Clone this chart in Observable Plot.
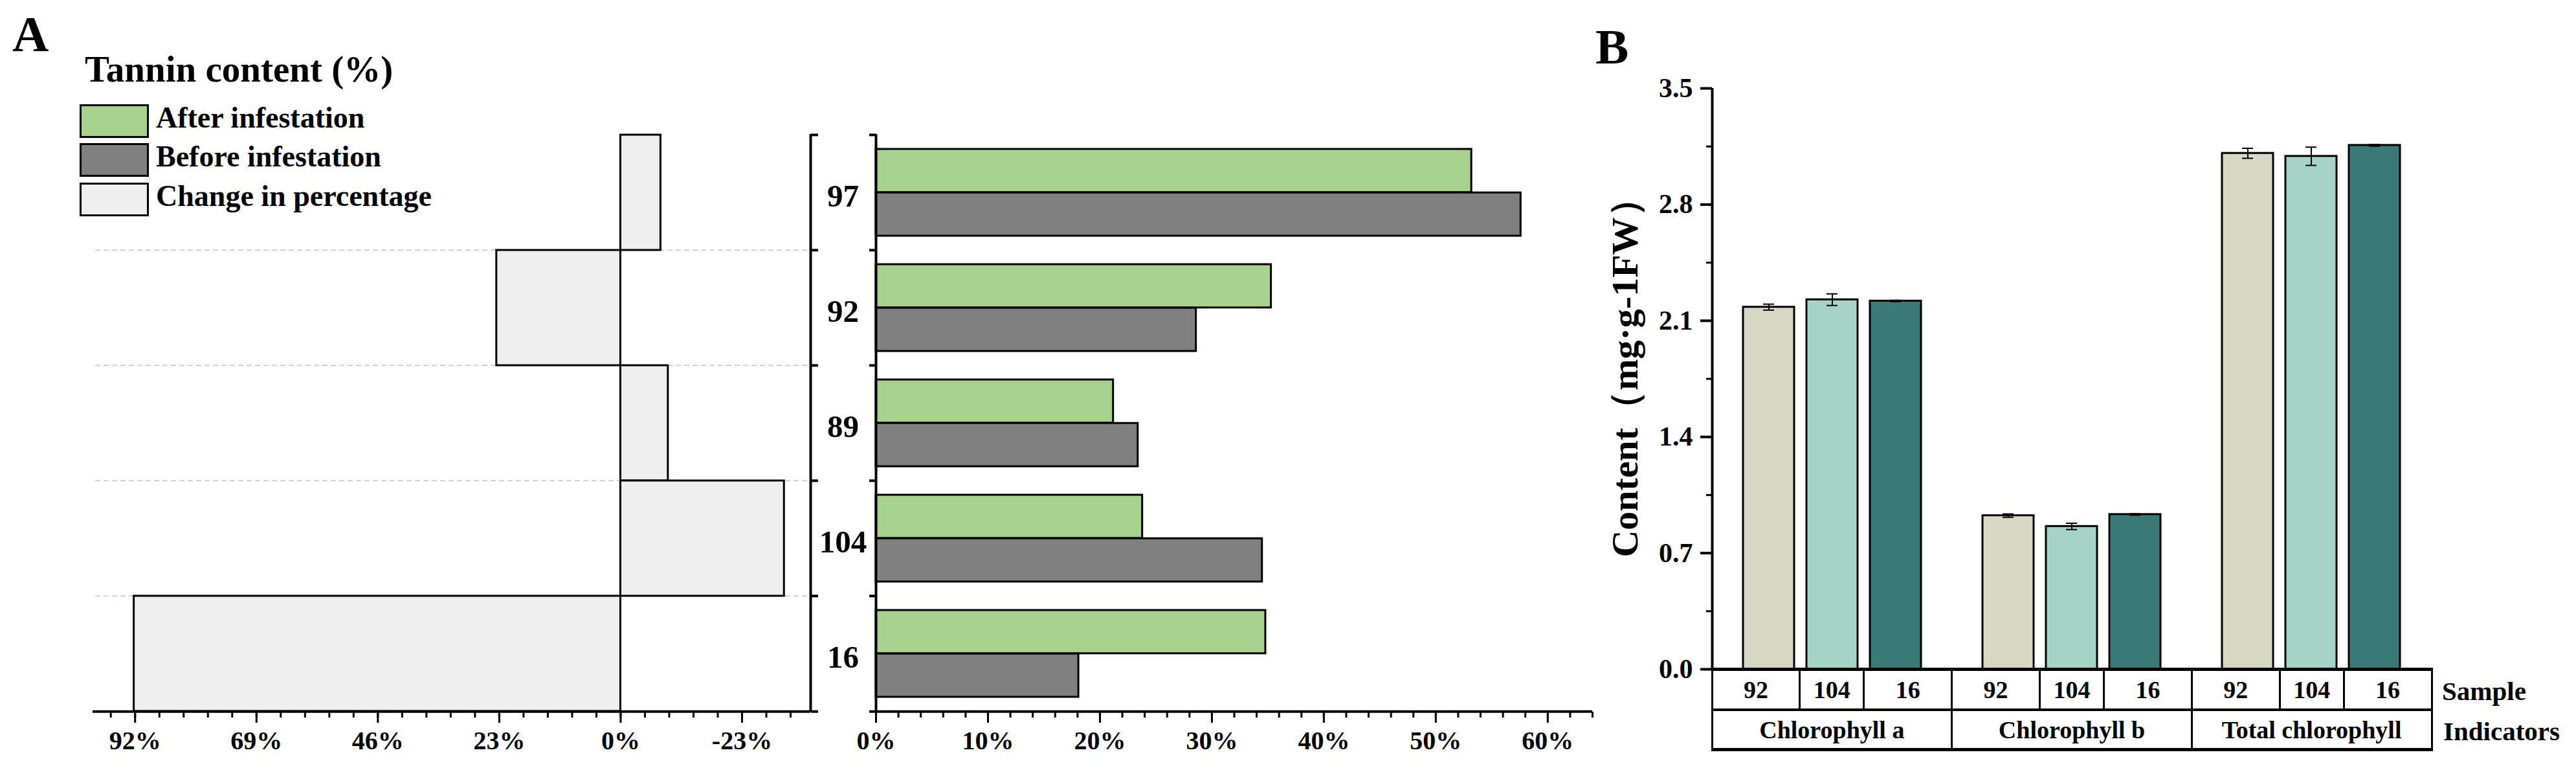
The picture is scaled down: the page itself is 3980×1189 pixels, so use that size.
<!DOCTYPE html>
<html><head><meta charset="utf-8">
<script src="https://cdn.jsdelivr.net/npm/d3@7"></script>
<script src="https://cdn.jsdelivr.net/npm/@observablehq/plot@0.6"></script>
<style>
html,body{margin:0;padding:0;background:#fff;}
#root{position:relative;width:3980px;height:1189px;overflow:hidden;font-family:"Liberation Serif","Times New Roman",serif;color:#000;}
.abs{position:absolute;line-height:1;white-space:nowrap;}
.svgbox{position:absolute;top:0;}
.cell{position:absolute;display:flex;align-items:center;justify-content:center;line-height:1;font-weight:bold;white-space:nowrap;}
</style></head><body><div id="root"></div>
<script>
// ---------- Panel A data ----------
const tanninSamples = ["97", "92", "89", "104", "16"];
const tanninAfter   = [53.2, 35.3, 21.2, 23.8, 34.8];
const tanninBefore  = [57.6, 28.6, 23.4, 34.5, 18.1];
const tanninChange  = [-7.6, 23.5, -9.0, -31.0, 92.2];
const changeTicks   = [92, 69, 46, 23, 0, -23];
const contentTicksA = [0, 10, 20, 30, 40, 50, 60];
const legendLabels  = ["After infestation", "Before infestation", "Change in percentage"];
const legendColors  = ["#a9d18e", "#808080", "#eeeeee"];

// ---------- Panel B data ----------
const chlIndicators = ["Chlorophyll a", "Chlorophyll b", "Total chlorophyll"];
const chlSamples    = ["92", "104", "16"];
const chlA          = [2.182, 2.227, 2.219];
const chlAErr       = [0.018, 0.035, 0.004];
const chlB          = [0.926, 0.861, 0.933];
const chlBErr       = [0.010, 0.019, 0.004];
const chlTotal      = [3.109, 3.091, 3.157];
const chlTotalErr   = [0.030, 0.055, 0.005];
const chlTicks      = [0, 0.7, 1.4, 2.1, 2.8, 3.5];
const sampleColors  = ["#d8d9c4", "#a6d3c6", "#397a76"];

const FONT = "Liberation Serif";
const H = 1189;
const root = document.getElementById("root");

function addText(txt, left, top, size, bold, extra) {
  const d = document.createElement("div");
  d.className = "abs";
  d.textContent = txt;
  d.style.left = left + "px"; d.style.top = top + "px";
  d.style.fontSize = size + "px";
  d.style.fontWeight = bold ? "bold" : "normal";
  if (extra) Object.assign(d.style, extra);
  root.appendChild(d);
  return d;
}
function addBox(left, top, w, h, css) {
  const d = document.createElement("div");
  d.style.position = "absolute";
  d.style.left = left + "px"; d.style.top = top + "px";
  d.style.width = w + "px"; d.style.height = h + "px";
  Object.assign(d.style, css || {});
  root.appendChild(d);
  return d;
}
function place(svg, left, width) {
  const wrap = document.createElement("div");
  wrap.className = "svgbox";
  wrap.style.left = left + "px";
  wrap.style.width = width + "px";
  wrap.appendChild(svg);
  root.appendChild(wrap);
}

// ---------- Panel A ----------
const rowsA = tanninSamples.map((s, i) => ({sample: s, after: tanninAfter[i], before: tanninBefore[i], change: tanninChange[i]}));
const mTopA = 207, mBottomA = 90;
const bwA = (H - mTopA - mBottomA) / tanninSamples.length;
const lastA = tanninSamples.slice(-1);
const changeDomain = [100, -36];
const minorChange = d3.range(-7, 22).map(k => +(k * 4.6).toFixed(1));
const baseStyle = {fontFamily: FONT, background: "transparent", overflow: "visible", color: "black"};

const leftChart = Plot.plot({
  width: 1300, height: H,
  marginLeft: 143, marginRight: 48, marginTop: mTopA, marginBottom: mBottomA,
  style: baseStyle,
  x: {domain: changeDomain, axis: null},
  y: {domain: tanninSamples, padding: 0, axis: null},
  marks: [
    Plot.ruleY(tanninSamples.slice(1), {y: d => d, dy: -bwA / 2, stroke: "#c4c4c4", strokeWidth: 1.5, strokeDasharray: "8,5", insetLeft: 4}),
    Plot.barX(rowsA, {y: "sample", x: "change", fill: legendColors[2], stroke: "black", strokeWidth: 3}),
    Plot.ruleX([changeDomain[1]], {stroke: "black", strokeWidth: 4}),
    Plot.axisY({anchor: "right", ticks: tanninSamples, tickSize: 11, text: null, label: null, dy: -bwA / 2, strokeWidth: 4}),
    Plot.axisY({anchor: "right", ticks: lastA, tickSize: 11, text: null, label: null, dy: bwA / 2, strokeWidth: 4}),
    Plot.ruleY(lastA, {y: d => d, dy: bwA / 2, stroke: "black", strokeWidth: 4}),
    Plot.axisX({ticks: minorChange, tickSize: 9, text: null, label: null, strokeWidth: 3}),
    Plot.axisX({ticks: changeTicks, tickSize: 17, tickPadding: 12, label: null, tickFormat: d => d + "%", fontSize: 40, fontWeight: "bold", strokeWidth: 3})
  ]
});
place(leftChart, 0, 1300);

const gapA = 22;
const halfA = (bwA - 2 * gapA) / 2;
const rightChart = Plot.plot({
  width: 1220, height: H,
  marginLeft: 93, marginRight: 20, marginTop: mTopA, marginBottom: mBottomA,
  style: baseStyle,
  x: {domain: [0, 64], axis: null},
  y: {domain: tanninSamples, padding: 0, axis: null},
  marks: [
    Plot.barX(rowsA, {y: "sample", x: "after", fill: legendColors[0], stroke: "black", strokeWidth: 3, insetTop: gapA, insetBottom: gapA + halfA}),
    Plot.barX(rowsA, {y: "sample", x: "before", fill: legendColors[1], stroke: "black", strokeWidth: 3, insetTop: gapA + halfA, insetBottom: gapA}),
    Plot.ruleX([0], {stroke: "black", strokeWidth: 4}),
    Plot.axisY({anchor: "left", ticks: tanninSamples, tickSize: 10, text: null, label: null, dy: -bwA / 2, strokeWidth: 4}),
    Plot.axisY({anchor: "left", ticks: lastA, tickSize: 10, text: null, label: null, dy: bwA / 2, strokeWidth: 4}),
    Plot.ruleY(lastA, {y: d => d, dy: bwA / 2, stroke: "black", strokeWidth: 4}),
    Plot.axisX({ticks: d3.range(0, 65, 2), tickSize: 9, text: null, label: null, strokeWidth: 3}),
    Plot.axisX({ticks: contentTicksA, tickSize: 17, tickPadding: 12, label: null, tickFormat: d => d + "%", fontSize: 40, fontWeight: "bold", strokeWidth: 3}),
    Plot.text(tanninSamples, {y: d => d, text: d => d, frameAnchor: "left", dx: -51, dy: 6, textAnchor: "middle", fontSize: 49, fontWeight: "bold"})
  ]
});
place(rightChart, 1260, 1220);

addText("A", 19, 14, 78, true);
addText("Tannin content (%)", 131, 78, 57, true);
const legendTops = [161, 221, 282];
legendLabels.forEach((lab, i) => {
  addBox(123, legendTops[i], 107, 52, {background: legendColors[i], border: "3.5px solid #000", boxSizing: "border-box"});
  addText(lab, 241, legendTops[i] - 2, 46, true);
});

// ---------- Panel B ----------
const dataB = [];
[[chlA, chlAErr], [chlB, chlBErr], [chlTotal, chlTotalErr]].forEach(([vals, errs], gi) => {
  chlSamples.forEach((s, i) => dataB.push({indicator: chlIndicators[gi], sample: s, value: vals[i], err: errs[i]}));
});
const bLeft = 2420, bW = 1560, bML = 225, bMR = 223, bMT = 136, bMB = 156;
const padIn = 0.19, padOut = 0.47;

const axisB = Plot.plot({
  width: bW, height: H, marginLeft: bML, marginRight: bMR, marginTop: bMT, marginBottom: bMB,
  style: baseStyle,
  x: {domain: [0, 1], axis: null},
  y: {domain: [0, 3.5], axis: null},
  marks: [
    Plot.ruleX([0], {stroke: "black", strokeWidth: 4}),
    Plot.axisY({ticks: d3.range(0, 5).map(k => +(0.35 + k * 0.7).toFixed(2)), tickSize: 9, text: null, label: null, strokeWidth: 3}),
    Plot.axisY({ticks: chlTicks, tickSize: 18, tickPadding: 12, label: null, tickFormat: d3.format(".1f"), fontSize: 42, fontWeight: "bold", strokeWidth: 4}),
    Plot.text(["Content（mg·g-1FW）"], {text: d => d, frameAnchor: "left", textAnchor: "middle", lineAnchor: "middle", rotate: -90, dx: -134, dy: -16, fontSize: 58, fontWeight: "bold", letterSpacing: 1.5})
  ]
});
place(axisB, bLeft, bW);

const barsB = Plot.plot({
  width: bW, height: H, marginLeft: bML, marginRight: bMR, marginTop: bMT, marginBottom: bMB,
  style: baseStyle,
  fx: {domain: chlIndicators, padding: 0, axis: null},
  x: {domain: chlSamples, paddingInner: padIn, paddingOuter: padOut, axis: null},
  y: {domain: [0, 3.5], axis: null},
  color: {domain: chlSamples, range: sampleColors},
  marks: [
    Plot.barY(dataB, {fx: "indicator", x: "sample", y: "value", fill: "sample", stroke: "black", strokeWidth: 3}),
    Plot.ruleX(dataB, {fx: "indicator", x: "sample", y1: d => d.value - d.err, y2: d => d.value + d.err, stroke: "black", strokeWidth: 2}),
    Plot.tickY(dataB, {fx: "indicator", x: "sample", y: d => d.value + d.err, insetLeft: 31, insetRight: 31, stroke: "black", strokeWidth: 2}),
    Plot.tickY(dataB, {fx: "indicator", x: "sample", y: d => d.value - d.err, insetLeft: 31, insetRight: 31, stroke: "black", strokeWidth: 2})
  ]
});
place(barsB, bLeft, bW);

addText("B", 2465, 34, 77, true);

// table under panel B (sample row + indicator row)
const tX0 = bLeft + bML;
const tX1 = bLeft + bW - bMR;
const groupW = (tX1 - tX0) / chlIndicators.length;
const step = groupW / (chlSamples.length - padIn + 2 * padOut);
const firstB = padOut * step + step - padIn * step / 2;
const yTop = H - bMB, yMid = 1096, yBot = 1157;
addBox(tX0 - 1.5, yTop - 2.5, tX1 - tX0 + 3, 5, {background: "#000"});
addBox(tX0 - 1.5, yMid - 2, tX1 - tX0 + 3, 4, {background: "#000"});
addBox(tX0 - 1.5, yBot - 2.5, tX1 - tX0 + 3, 5, {background: "#000"});
chlIndicators.forEach((ind, g) => {
  const gx = tX0 + g * groupW;
  const bounds = [gx, gx + firstB, gx + firstB + step, gx + groupW];
  addBox(gx - 1.5, yTop, 3, yBot - yTop, {background: "#000"});
  addBox(bounds[1] - 1.5, yTop, 3, yMid - yTop, {background: "#000"});
  addBox(bounds[2] - 1.5, yTop, 3, yMid - yTop, {background: "#000"});
  chlSamples.forEach((s, i) => {
    const c = addBox(bounds[i], yTop, bounds[i + 1] - bounds[i], yMid - yTop);
    c.className = "cell"; c.style.position = "absolute"; c.style.fontSize = "38px"; c.textContent = s;
  });
  const c2 = addBox(gx, yMid, groupW, yBot - yMid);
  c2.className = "cell"; c2.style.position = "absolute"; c2.style.fontSize = "38px"; c2.textContent = ind;
});
addBox(tX1 - 1.5, yTop, 3, yBot - yTop, {background: "#000"});
addText("Sample", 3773, 1047, 41, true);
addText("Indicators", 3775, 1109, 41, true);
</script></body></html>
